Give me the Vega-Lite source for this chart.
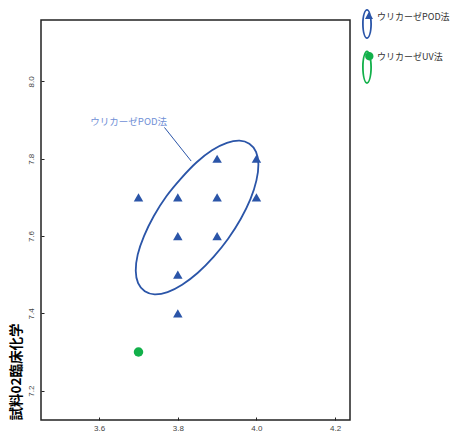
{
  "$schema": "https://vega.github.io/schema/vega-lite/v6.json",
  "autosize": {"type": "none"},
  "width": 309,
  "height": 400,
  "padding": {"left": 41, "top": 20, "right": 102, "bottom": 14},
  "background": "white",
  "config": {
    "view": {"stroke": "#222", "strokeWidth": 1.5},
    "axis": {"grid": false, "labelFont": "Liberation Sans", "labelFontSize": 8, "labelColor": "#444", "tickColor": "#222", "domain": false}
  },
  "datasets": {
    "points": [
      {"x": 3.7, "y": 7.7, "method": "ウリカーゼPOD法"},
      {"x": 3.8, "y": 7.7, "method": "ウリカーゼPOD法"},
      {"x": 3.9, "y": 7.7, "method": "ウリカーゼPOD法"},
      {"x": 4.0, "y": 7.7, "method": "ウリカーゼPOD法"},
      {"x": 3.9, "y": 7.8, "method": "ウリカーゼPOD法"},
      {"x": 4.0, "y": 7.8, "method": "ウリカーゼPOD法"},
      {"x": 3.8, "y": 7.6, "method": "ウリカーゼPOD法"},
      {"x": 3.9, "y": 7.6, "method": "ウリカーゼPOD法"},
      {"x": 3.8, "y": 7.5, "method": "ウリカーゼPOD法"},
      {"x": 3.8, "y": 7.4, "method": "ウリカーゼPOD法"},
      {"x": 3.7, "y": 7.3, "method": "ウリカーゼUV法"}
    ],
    "ellipse": [
      {"i": 0, "x": 3.982, "y": 7.839},
      {"i": 1, "x": 3.957, "y": 7.847},
      {"i": 2, "x": 3.925, "y": 7.841},
      {"i": 3, "x": 3.887, "y": 7.822},
      {"i": 4, "x": 3.848, "y": 7.791},
      {"i": 5, "x": 3.809, "y": 7.750},
      {"i": 6, "x": 3.771, "y": 7.703},
      {"i": 7, "x": 3.739, "y": 7.652},
      {"i": 8, "x": 3.714, "y": 7.600},
      {"i": 9, "x": 3.698, "y": 7.552},
      {"i": 10, "x": 3.693, "y": 7.510},
      {"i": 11, "x": 3.699, "y": 7.478},
      {"i": 12, "x": 3.716, "y": 7.457},
      {"i": 13, "x": 3.741, "y": 7.449},
      {"i": 14, "x": 3.774, "y": 7.455},
      {"i": 15, "x": 3.811, "y": 7.474},
      {"i": 16, "x": 3.851, "y": 7.505},
      {"i": 17, "x": 3.891, "y": 7.546},
      {"i": 18, "x": 3.928, "y": 7.593},
      {"i": 19, "x": 3.960, "y": 7.644},
      {"i": 20, "x": 3.985, "y": 7.696},
      {"i": 21, "x": 4.000, "y": 7.744},
      {"i": 22, "x": 4.005, "y": 7.786},
      {"i": 23, "x": 3.999, "y": 7.818}
    ],
    "annot": [{"x": 3.675, "y": 7.896, "label": "ウリカーゼPOD法"}],
    "leader": [{"x": 3.766, "y": 7.881, "x2": 3.834, "y2": 7.794}]
  },
  "layer": [
    {
      "data": {"name": "ellipse"},
      "mark": {"type": "line", "color": "#2b55a8", "strokeWidth": 1.8, "interpolate": "cardinal-closed"},
      "encoding": {
        "x": {"field": "x", "type": "quantitative", "scale": {"domain": [3.452, 4.238], "nice": false, "zero": false},
          "axis": {"values": [3.6, 3.8, 4.0, 4.2], "format": ".1f", "title": null, "tickSize": -3, "labelPadding": 7}},
        "y": {"field": "y", "type": "quantitative", "scale": {"domain": [7.124, 8.159], "nice": false, "zero": false},
          "axis": {"values": [7.2, 7.4, 7.6, 7.8, 8.0], "format": ".1f", "labelAngle": 270, "tickSize": -3, "labelPadding": 9,
            "title": "試料02臨床化学", "titleFont": "Noto Sans CJK JP", "titleFontSize": 13.5, "titleFontWeight": "bold", "titleColor": "#000", "titleAnchor": "start", "titlePadding": 4}},
        "order": {"field": "i", "type": "quantitative"}
      }
    },
    {
      "data": {"name": "leader"},
      "mark": {"type": "rule", "color": "#2b55a8", "strokeWidth": 1},
      "encoding": {
        "x": {"field": "x", "type": "quantitative"},
        "y": {"field": "y", "type": "quantitative"},
        "x2": {"field": "x2"},
        "y2": {"field": "y2"}
      }
    },
    {
      "data": {"name": "annot"},
      "mark": {"type": "text", "font": "Noto Sans CJK JP", "fontSize": 9.5, "color": "#6f8fd6"},
      "encoding": {
        "x": {"field": "x", "type": "quantitative"},
        "y": {"field": "y", "type": "quantitative"},
        "text": {"field": "label"}
      }
    },
    {
      "data": {"name": "points"},
      "mark": {"type": "point", "filled": true, "opacity": 1, "size": 90},
      "encoding": {
        "x": {"field": "x", "type": "quantitative"},
        "y": {"field": "y", "type": "quantitative"},
        "color": {"field": "method", "type": "nominal", "scale": {"domain": ["ウリカーゼPOD法", "ウリカーゼUV法"], "range": ["#2b55a8", "#12b04a"]}, "legend": null},
        "shape": {"field": "method", "type": "nominal", "scale": {"domain": ["ウリカーゼPOD法", "ウリカーゼUV法"], "range": ["triangle-up", "circle"]}, "legend": null}
      }
    },
    {
      "data": {"name": "points"},
      "mark": {"type": "point", "filled": true, "opacity": 0, "size": 400},
      "encoding": {
        "x": {"field": "x", "type": "quantitative"},
        "y": {"field": "y", "type": "quantitative"},
        "color": {"field": "method", "type": "nominal",
          "legend": {"orient": "none", "legendX": 316, "legendY": -13, "title": null, "symbolSize": 400, "symbolOpacity": 1, "symbolStrokeWidth": 0, "rowPadding": 8, "labelFont": "Noto Sans CJK JP", "labelFontSize": 9, "labelColor": "#333", "labelOffset": 0, "padding": 0}},
        "shape": {"field": "method", "type": "nominal",
          "scale": {"domain": ["ウリカーゼPOD法", "ウリカーゼUV法"], "range": [
            "M0.5,0.7A0.5,1.5,0,1,1,-0.5,0.7A0.5,1.5,0,1,1,0.5,0.7ZM0.32,0.7A0.32,1.32,0,1,0,-0.32,0.7A0.32,1.32,0,1,0,0.32,0.7ZM0.2,-0.55L0.6,0.2L-0.2,0.2Z",
            "M0.5,1.03A0.5,1.67,0,1,1,-0.5,1.03A0.5,1.67,0,1,1,0.5,1.03ZM0.32,1.03A0.32,1.49,0,1,0,-0.32,1.03A0.32,1.49,0,1,0,0.32,1.03ZM0.65,-0.07A0.42,0.42,0,1,1,-0.19,-0.07A0.42,0.42,0,1,1,0.65,-0.07Z"
          ]},
          "legend": {"orient": "none", "legendX": 316, "legendY": -13, "title": null, "symbolSize": 400, "symbolOpacity": 1, "symbolStrokeWidth": 0, "rowPadding": 8, "labelFont": "Noto Sans CJK JP", "labelFontSize": 9, "labelColor": "#333", "labelOffset": 0, "padding": 0}}
      }
    }
  ],
  "resolve": {"scale": {"shape": "independent"}, "legend": {"shape": "independent", "color": "independent"}}
}
